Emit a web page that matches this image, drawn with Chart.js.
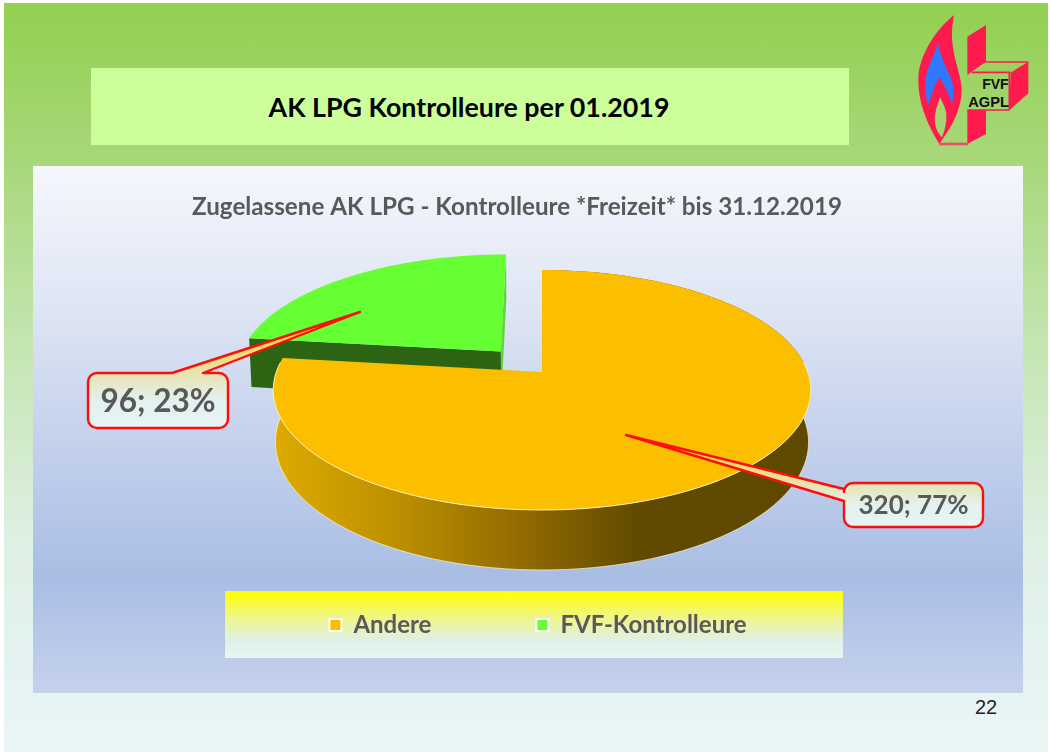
<!DOCTYPE html>
<html><head><meta charset="utf-8">
<script src="https://cdn.jsdelivr.net/npm/chart.js@4"></script>
<style>
html,body{margin:0;padding:0;background:#fff;width:1050px;height:753px;overflow:hidden}
#wrap{position:absolute;left:0;top:0;width:1050px;height:753px;filter:blur(.45px)}
#bg{position:absolute;left:4px;top:3px;width:1044px;height:749px;background:linear-gradient(180deg,#92d050 0%,#a9d87c 22%,#c4e5b0 45%,#dff0e4 72%,#e4f3f1 88%,#eaf6f6 100%)}
#bar{position:absolute;left:91px;top:68px;width:758px;height:77px;background:#ccff99;display:flex;align-items:center;justify-content:center;font:bold 26.8px Lato,sans-serif;color:#000}
#bar span{position:relative;left:-1px;top:0}
#panel{position:absolute;left:33px;top:166px;width:990px;height:527px;background:linear-gradient(180deg,#f6f7fc 0%,#dbe3f3 30%,#a9bde4 78%,#c5d2ec 100%)}
#legbg{position:absolute;left:225px;top:591px;width:618px;height:67px;background:linear-gradient(180deg,#ffff00 0%,#f0f58a 40%,#dff0ea 75%,#e8f5f5 100%)}
#pageno{position:absolute;left:975px;top:696px;font:20px "Liberation Sans",sans-serif;color:#222}
#logo{position:absolute;left:880px;top:0;width:170px;height:160px}
canvas{position:absolute;left:0;top:0}
</style></head><body>
<div id="wrap">
<div id="bg"></div>
<div id="bar"><span>AK LPG Kontrolleure per 01.2019</span></div>
<div id="panel"></div>
<div id="legbg"></div>
<svg id="logo" viewBox="0 0 510 480">
 <g fill="#ff1a4d">
  <path d="M222 45C165 90 115 170 115 240C115 320 150 385 178 432C200 400 245 340 245 270C245 210 200 150 222 45Z"/>
  <path d="M262 110L318 75L318 185L275 215L262 225Z"/>
  <path d="M392 218L445 185L445 280L388 330Z"/>
  <path d="M262 330L318 330L318 402L262 432Z"/>
 </g>
 <g stroke="#ff1a4d" stroke-width="5" fill="none">
  <path d="M318 186L445 186M275 217L392 217M388 217L388 330M262 330L388 330"/>
  <path d="M178 432L264 432" stroke-width="8" stroke="#e8506a"/>
 </g>
 <path fill="#2f78ff" d="M175 130C160 170 135 210 135 260C135 285 140 300 146 312C155 285 165 250 178 232C195 260 210 290 216 312C222 290 222 260 215 240C200 205 180 170 175 130Z"/>
 <path fill="#a4d574" d="M180 292C170 320 162 345 165 370C168 390 178 405 186 412C195 390 202 360 198 335C194 318 186 305 180 292Z"/>
 <text x="386" y="268" text-anchor="end" font-family="Liberation Sans" font-weight="bold" font-size="42" fill="#111">FVF</text>
 <text x="387" y="322" text-anchor="end" font-family="Liberation Sans" font-weight="bold" font-size="44" fill="#111">AGPL</text>
</svg>
<div id="pageno">22</div>
<canvas id="c" width="1050" height="753"></canvas>
</div>
<script>
const categories = ['Andere', 'FVF-Kontrolleure'];
const values = [320, 96];
const sliceColors = ['#fcbf00', '#66ff33'];
const chartTitle = 'Zugelassene AK LPG - Kontrolleure *Freizeit* bis 31.12.2019';

// 3D view of the pie (perspective) and styling
const VIEW = {cx:542, cy:372, s:265.7, k:117.3, p:.15, d:51, shrink:.008};
const EXPLODE = [0, .24];
const CALLOUTS = [
  {x:844,y:483,w:139,h:44,r:9,side:'left',a:489,b:501,tx:626,ty:435,font:'bold 26px Lato,sans-serif'},
  {x:88,y:373,w:140,h:55,r:9,side:'top',a:172,b:203,tx:360,ty:312,font:'bold 31.5px Lato,sans-serif'}
];

function project(X,Z,t){
  const w = 1+VIEW.p*Z;
  return [VIEW.cx + VIEW.s*X/w*(1-VIEW.shrink*t), VIEW.cy - VIEW.k*Z/w + t*VIEW.d/w];
}
function rimPoint(phi,e,mid,t){
  return project(Math.cos(phi)+e*Math.cos(mid), -Math.sin(phi)-e*Math.sin(mid), t);
}
function poly(ctx,pts){
  ctx.beginPath();
  pts.forEach((p,i)=> i?ctx.lineTo(p[0],p[1]):ctx.moveTo(p[0],p[1]));
  ctx.closePath();
}
function sectorPts(a0,a1,e,mid,t){
  const pts=[], n=120;
  for(let i=0;i<=n;i++){ pts.push(rimPoint(a0+(a1-a0)*i/n,e,mid,t)); }
  return pts;
}
function centerPt(e,mid,t){ return project(e*Math.cos(mid), -e*Math.sin(mid), t); }
function frontRim(ctx,a0,a1,e,mid,t,color){
  const n=120; let started=false;
  ctx.beginPath();
  for(let i=0;i<=n;i++){
    const phi=a0+(a1-a0)*i/n;
    if(Math.sin(phi)<-.1) continue;
    const p=rimPoint(phi,e,mid,t);
    if(started) ctx.lineTo(p[0],p[1]); else { ctx.moveTo(p[0],p[1]); started=true; }
  }
  ctx.strokeStyle=color; ctx.lineWidth=1; ctx.stroke();
}

const pie3d = {
  id:'pie3d',
  afterLayout(chart){
    chart.titleBlock.left -= 8; chart.titleBlock.right -= 8;
    chart.legend.left += 13; chart.legend.right += 13;
  },
  beforeDatasetDraw(chart,args){
    const ctx = chart.ctx, arcs = chart.getDatasetMeta(args.index).data;
    ctx.save();
    // exploded green slice first: it sits behind the orange one
    [1,0].forEach(i=>{
      const arc = arcs[i], a0 = arc.startAngle, a1 = arc.endAngle, mid=(a0+a1)/2, e=EXPLODE[i];
      const top = sectorPts(a0,a1,e,mid,0), low = sectorPts(a0,a1,e,mid,1);
      const c0 = centerPt(e,mid,0), c1 = centerPt(e,mid,1);
      if(i===1){
        // cut faces
        poly(ctx,[c0,top[top.length-1],low[low.length-1],c1]); ctx.fillStyle='#5fd63a'; ctx.fill();
        poly(ctx,[c0,top[0],low[0],c1]); ctx.fillStyle='#2c6414'; ctx.fill();
      } else {
        poly(ctx,top.concat(low.slice().reverse()));
        const g = ctx.createLinearGradient(272,0,811,0);
        g.addColorStop(0,'#dfab00'); g.addColorStop(.25,'#b98d00'); g.addColorStop(.5,'#8a6500');
        g.addColorStop(.68,'#604a00'); g.addColorStop(1,'#5f4800');
        ctx.fillStyle=g; ctx.fill();
        frontRim(ctx,a0,a1,e,mid,1,'rgba(255,245,200,.7)');
      }
      poly(ctx,[c0].concat(top));
      ctx.fillStyle = sliceColors[i]; ctx.fill();
      if(i===0) frontRim(ctx,a0,a1,e,mid,0,'rgba(255,245,190,.9)');
    });
    ctx.restore();
    return false;
  },
  afterDatasetsDraw(chart){
    const ctx = chart.ctx, data = chart.data.datasets[0].data;
    const sum = data.reduce((a,b)=>a+b,0);
    data.forEach((v,i)=>{
      const c = CALLOUTS[i], x=c.x,y=c.y,w=c.w,h=c.h,r=c.r;
      ctx.save();
      ctx.beginPath();
      ctx.moveTo(x+r,y);
      if(c.side==='top'){ ctx.lineTo(c.a,y); ctx.lineTo(c.tx,c.ty); ctx.lineTo(c.b,y); }
      ctx.arcTo(x+w,y,x+w,y+h,r);
      ctx.arcTo(x+w,y+h,x,y+h,r);
      ctx.arcTo(x,y+h,x,y,r);
      if(c.side==='left'){ ctx.lineTo(x,c.b); ctx.lineTo(c.tx,c.ty); ctx.lineTo(x,c.a); }
      ctx.arcTo(x,y,x+w,y,r);
      ctx.closePath();
      const g = ctx.createLinearGradient(0,c.ty,0,y+h);
      g.addColorStop(0,'#ffd800'); g.addColorStop(.5,'#e9e1a8'); g.addColorStop(.76,'#e3f1ee'); g.addColorStop(1,'#e6f5f6');
      ctx.fillStyle=g; ctx.fill();
      ctx.strokeStyle='#ff0d0d'; ctx.lineWidth=2.4; ctx.lineJoin='round'; ctx.stroke();
      ctx.fillStyle='#595959'; ctx.font=c.font; ctx.textAlign='center'; ctx.textBaseline='middle';
      ctx.fillText(v+'; '+Math.round(v/sum*100)+'%', x+w/2, y+h/2+1);
      ctx.restore();
    });
  }
};

new Chart(document.getElementById('c'),{
  type:'pie',
  data:{labels:categories,datasets:[{data:values,backgroundColor:sliceColors,borderColor:'#ffffff',borderWidth:2}]},
  plugins:[pie3d],
  options:{
    responsive:false,animation:false,
    layout:{padding:{bottom:106}},
    plugins:{
      tooltip:{enabled:false},
      title:{display:true,text:chartTitle,color:'#595959',font:{family:'Lato,sans-serif',size:24.2,weight:'bold'},padding:{top:193,bottom:0}},
      legend:{position:'bottom',labels:{color:'#595959',boxWidth:12,boxHeight:12,padding:105,font:{family:'Lato,sans-serif',size:24,weight:'bold'}}}
    }
  }
});
</script>
</body></html>
